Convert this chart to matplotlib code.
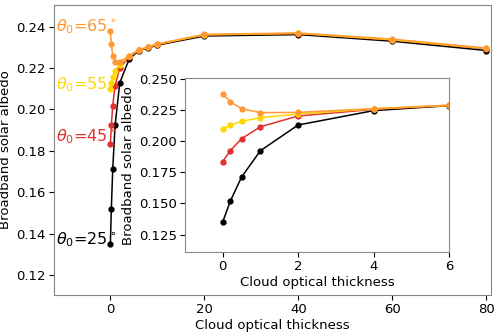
import matplotlib
matplotlib.use('Agg')
import matplotlib.pyplot as plt

tau = [0, 0.2, 0.5, 1, 2, 4, 6, 8, 10, 20, 40, 60, 80]

alb25 = [0.1352, 0.1517, 0.1712, 0.1923, 0.2129, 0.2244, 0.2284, 0.2297, 0.2311, 0.2355, 0.2362, 0.2330, 0.2285]
alb45 = [0.1835, 0.1923, 0.2019, 0.2115, 0.2201, 0.2254, 0.2286, 0.2300, 0.2314, 0.2360, 0.2367, 0.2336, 0.2293]
alb55 = [0.2097, 0.2129, 0.2158, 0.2188, 0.2217, 0.2258, 0.2286, 0.2301, 0.2315, 0.2361, 0.2368, 0.2337, 0.2295]
alb65 = [0.2379, 0.2316, 0.2260, 0.2228, 0.2230, 0.2260, 0.2288, 0.2303, 0.2317, 0.2363, 0.2370, 0.2340, 0.2297]

series = [(alb25, 'black', 25, 0.137),
          (alb45, '#e03030', 45, 0.187),
          (alb55, '#ffd700', 55, 0.2118),
          (alb65, '#ff9933', 65, 0.240)]

fig = plt.figure(figsize=(5, 3.33), dpi=100)
ax = fig.add_axes([0.108, 0.114, 0.874, 0.871])
for vals, col, th, ty in series:
    ax.plot(tau, vals, '-o', color=col, markersize=3.5, linewidth=1.1)
    ax.text(-11.5, ty, r'$\theta_0$=%d$^\circ$' % th, color=col, fontsize=11.5,
            ha='left', va='center')
ax.set_xlim(-12, 81)
ax.set_ylim(0.1103, 0.2505)
ax.set_yticks([0.12, 0.14, 0.16, 0.18, 0.20, 0.22, 0.24])
ax.set_xticks([0, 20, 40, 60, 80])
ax.set_xlabel('Cloud optical thickness', fontsize=9.5, labelpad=2)
ax.set_ylabel('Broadband solar albedo', fontsize=9.5, labelpad=3)
ax.tick_params(labelsize=9.5, pad=2.5)
for s in ax.spines.values():
    s.set_color('#888888')

ins = fig.add_axes([0.37, 0.243, 0.528, 0.5225])
for vals, col, th, ty in series:
    ins.plot(tau[:7], vals[:7], '-o', color=col, markersize=3.5, linewidth=1.1)
ins.set_xlim(-1, 6)
ins.set_ylim(0.111, 0.2505)
ins.set_yticks([0.125, 0.150, 0.175, 0.200, 0.225, 0.250])
ins.set_xticks([0, 2, 4, 6])
ins.set_xlabel('Cloud optical thickness', fontsize=9.5, labelpad=2)
ins.set_ylabel('Broadband solar albedo', fontsize=9.5, labelpad=3)
ins.tick_params(labelsize=9.5, pad=2.5)
for s in ins.spines.values():
    s.set_color('#888888')

fig.savefig('out.png', dpi=100)
